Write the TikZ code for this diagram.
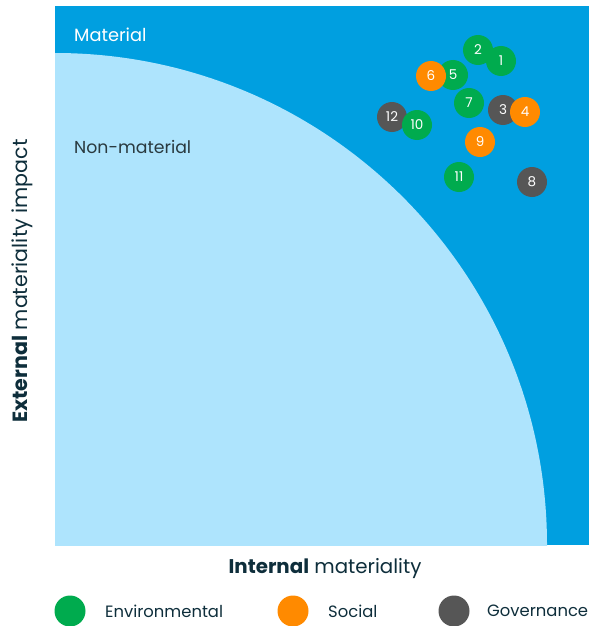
\documentclass[tikz,border=0pt]{standalone}
\usepackage{fontspec}
\setmainfont{Poppins}
\definecolor{dblue}{HTML}{009FE0}
\definecolor{lblue}{HTML}{AEE4FD}
\definecolor{egreen}{HTML}{00AB4E}
\definecolor{sorange}{HTML}{FF8A00}
\definecolor{ggray}{HTML}{565656}
\definecolor{ink}{HTML}{0E2E3B}
\definecolor{ink2}{HTML}{2A3A40}
\begin{document}
\begin{tikzpicture}[x=1pt,y=-1pt,
  bub/.style={circle,minimum size=30pt,inner sep=0pt,text=white,font=\fontsize{13.5}{13.5}\selectfont},
  env/.style={bub,fill=egreen},
  soc/.style={bub,fill=sorange},
  gov/.style={bub,fill=ggray},
  leg/.style={circle,minimum size=31pt,inner sep=0pt},
  legtxt/.style={anchor=west,text=ink,inner sep=0pt,font=\fontsize{16.4}{16.4}\selectfont},
  axis/.style={text=ink,font=\fontsize{19.8}{19.8}\selectfont}]
\useasboundingbox (0,0) rectangle (589,626);
\fill[dblue] (55,6) rectangle (589,545);
\begin{scope}
  \clip (55,6) rectangle (589,545);
  \fill[lblue] (55,545) circle (492pt);
\end{scope}
\node[anchor=west,text=white,font=\fontsize{17.8}{17.8}\selectfont,inner sep=0pt] (mat) at (74,35) {Material};
\node[anchor=west,text=ink2,font=\fontsize{17.3}{17.3}\selectfont,inner sep=0pt] (nonmat) at (74,147) {Non-material};
% bubbles
\node[env] (b2) at (478,50) {2};
\node[env] (b1) at (501,61) {1};
\node[env] (b5) at (453,75) {5};
\node[soc] (b6) at (431,76) {6};
\node[env] (b7) at (469,103) {7};
\node[gov] (b3) at (503,110) {3};
\node[soc] (b4) at (525,112) {4};
\node[gov] (b12) at (392,117) {12};
\node[env] (b10) at (417,125) {10};
\node[soc] (b9) at (480,142) {9};
\node[env] (b11) at (459,177) {11};
\node[gov] (b8) at (532,182) {8};
% axes
\node[axis] (xl) at (325,569) {\textbf{Internal} materiality};
\node[axis,font=\fontsize{20.6}{20.6}\selectfont,rotate=90] (yl) at (22,281) {\textbf{External} materiality impact};
% legend
\node[leg,fill=egreen] (le) at (70,611) {};
\node[legtxt] (lte) at (105,611) {Environmental};
\node[leg,fill=sorange] (ls) at (293,611) {};
\node[legtxt] (lts) at (328,611) {Social};
\node[leg,fill=ggray] (lg) at (454,611) {};
\node[legtxt] (ltg) at (487,611) {Governance};
\end{tikzpicture}
\end{document}
